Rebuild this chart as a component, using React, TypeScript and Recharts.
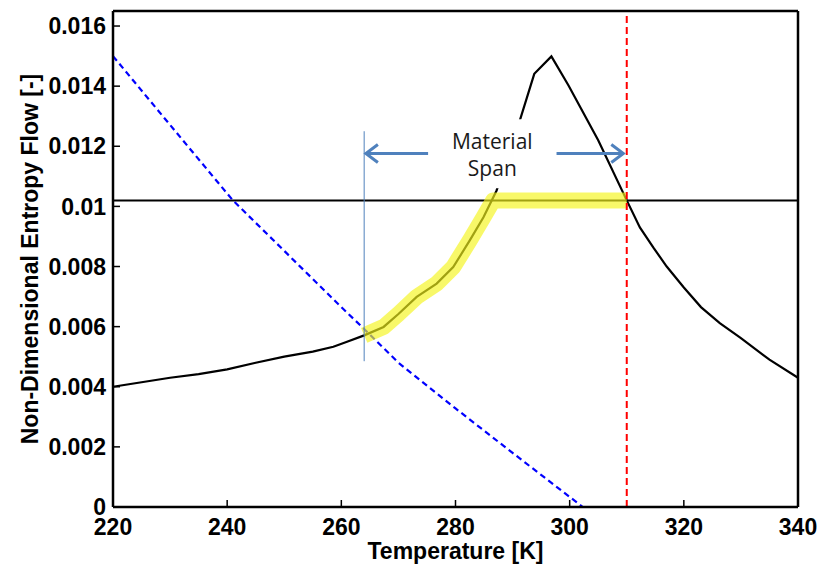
import React from 'react';
import { LineChart, Line, XAxis, YAxis, ReferenceLine, ReferenceArea } from 'recharts';

// Black curve: non-dimensional entropy flow of the material
const curveT = [220, 225, 230, 235, 240, 245, 250, 255, 258.6, 261, 264, 267.4, 270, 273.2, 276.7, 279.6, 282.5, 284.9, 287.2, 291.3, 293.8, 296.8, 299.8, 305, 310, 312.3, 314.7, 317, 320, 323, 326.3, 330, 335, 340];
const curveS = [0.004, 0.00415, 0.0043, 0.00442, 0.00458, 0.0048, 0.005, 0.00517, 0.00533, 0.0055, 0.00571, 0.00599, 0.00642, 0.00699, 0.00743, 0.00798, 0.00887, 0.00964, 0.01053, 0.01288, 0.01441, 0.01499, 0.01402, 0.0122, 0.0102, 0.0093, 0.00862, 0.0080, 0.0073, 0.00665, 0.00612, 0.00562, 0.0049, 0.0043];

// Blue dashed curve
const limitT = [220, 230, 241, 250, 260, 264, 270, 280, 290, 302.3];
const limitS = [0.015, 0.01271, 0.0102, 0.00852, 0.00665, 0.00592, 0.0048, 0.00328, 0.0018, 0];

// Yellow highlighted region
const highlightT = [264, 267.4, 270, 273.2, 276.7, 279.6, 282.5, 284.9, 286.6, 310];
const highlightS = [0.00571, 0.00599, 0.00642, 0.00699, 0.00743, 0.00798, 0.00887, 0.00964, 0.0102, 0.0102];

const xTicks = [220, 240, 260, 280, 300, 320, 340];
const yTicks = [0, 0.002, 0.004, 0.006, 0.008, 0.01, 0.012, 0.014, 0.016];

const spanLevel = 0.0102;
const spanStart = 264;
const spanEnd = 310;
const startMarkLow = 0.00485;
const startMarkHigh = 0.0125;
const arrowLevel = 0.01176;
const leftArrow = [275.2, 264.3];
const rightArrow = [297.7, 309.4];
const labelBoxX = [275.3, 297.6];
const labelBoxY = [0.0106, 0.0129];
const labelLines = ['Material', 'Span'];

const toPts = (t: number[], s: number[]) => t.map((x, i) => ({ x, y: s[i] }));
const curveData = toPts(curveT, curveS);
const limitData = toPts(limitT, limitS);
const highlightData = toPts(highlightT, highlightS);

const ARROW = '#4f81bd';
const AXIS_FONT = '"Liberation Sans", Arial, Helvetica, sans-serif';

const XTick = (props: any) => {
  const { x, y, payload } = props;
  return (
    <text x={x} y={y} dy="0.71em" textAnchor="middle" fontFamily={AXIS_FONT} fontWeight="bold" fontSize={23} fill="#000">
      {String(payload.value)}
    </text>
  );
};

const YTick = (props: any) => {
  const { x, y, payload } = props;
  const v = payload.value;
  return (
    <text x={x} y={y} dy="0.355em" textAnchor="end" fontFamily={AXIS_FONT} fontWeight="bold" fontSize={23} fill="#000">
      {v === 0 ? '0' : String(v)}
    </text>
  );
};

const ArrowShape = (props: any) => {
  const { x1, y1, x2, y2 } = props;
  const dx = x2 - x1;
  const dy = y2 - y1;
  const len = Math.hypot(dx, dy) || 1;
  const ux = dx / len;
  const uy = dy / len;
  const h = 12;
  const w = 9;
  const bx = x2 - ux * h;
  const by = y2 - uy * h;
  return (
    <g>
      <line x1={x1} y1={y1} x2={x2 - ux * 1.5} y2={y2 - uy * 1.5} stroke={ARROW} strokeWidth={3} />
      <polyline
        points={`${bx - uy * w},${by + ux * w} ${x2},${y2} ${bx + uy * w},${by - ux * w}`}
        fill="none"
        stroke={ARROW}
        strokeWidth={3}
      />
    </g>
  );
};

const SpanLabel = (props: any) => {
  const vb = props.viewBox || {};
  const cx = vb.x + vb.width / 2;
  return (
    <text x={cx} y={vb.y + 30} textAnchor="middle" fontFamily='"Open Sans", sans-serif' fontSize={21} fill="#1a1a1a">
      <tspan x={cx} y={vb.y + 30}>{labelLines[0]}</tspan>
      <tspan x={cx} y={vb.y + 57}>{labelLines[1]}</tspan>
    </text>
  );
};

const XLabel = (props: any) => {
  const vb = props.viewBox || {};
  return (
    <text x={vb.x + vb.width / 2} y={vb.y + 52} textAnchor="middle" fontFamily={AXIS_FONT} fontWeight="bold" fontSize={23} fill="#000">
      Temperature [K]
    </text>
  );
};

const YLabel = (props: any) => {
  const vb = props.viewBox || {};
  const x = vb.x + 38;
  const y = vb.y + vb.height / 2;
  return (
    <text x={x} y={y} transform={`rotate(-90, ${x}, ${y})`} textAnchor="middle" fontFamily={AXIS_FONT} fontWeight="bold" fontSize={23} fill="#000">
      Non-Dimensional Entropy Flow [-]
    </text>
  );
};

export default function App() {
  return (
    <div style={{ position: 'absolute', left: 0, top: 0, width: 820, height: 570, background: '#fff' }}>
      <LineChart width={820} height={570} margin={{ top: 10, right: 21, bottom: 0, left: 0 }}>
        <XAxis
          dataKey="x"
          type="number"
          domain={[220, 340]}
          ticks={xTicks}
          tick={<XTick />}
          tickSize={-7}
          tickMargin={19}
          height={63}
          axisLine={{ stroke: '#000', strokeWidth: 2.5 }}
          tickLine={{ stroke: '#000', strokeWidth: 1.5 }}
          label={<XLabel />}
          interval={0}
        />
        <XAxis
          xAxisId="top"
          orientation="top"
          dataKey="x"
          type="number"
          domain={[220, 340]}
          ticks={xTicks}
          tickFormatter={() => ''}
          tickSize={-7}
          height={1}
          axisLine={{ stroke: '#000', strokeWidth: 2.5 }}
          tickLine={{ stroke: '#000', strokeWidth: 1.5 }}
          interval={0}
        />
        <YAxis
          type="number"
          domain={[0, 0.0165]}
          ticks={yTicks}
          tick={<YTick />}
          tickSize={-7}
          tickMargin={14}
          width={113}
          axisLine={{ stroke: '#000', strokeWidth: 2.5 }}
          tickLine={{ stroke: '#000', strokeWidth: 1.5 }}
          label={<YLabel />}
          interval={0}
        />
        <YAxis
          yAxisId="right"
          orientation="right"
          type="number"
          domain={[0, 0.0165]}
          ticks={yTicks}
          tickFormatter={() => ''}
          tickSize={-7}
          width={1}
          axisLine={{ stroke: '#000', strokeWidth: 2.5 }}
          tickLine={{ stroke: '#000', strokeWidth: 1.5 }}
          interval={0}
        />
        <ReferenceLine y={spanLevel} stroke="#000" strokeWidth={2} zIndex={300} />
        <Line data={limitData} dataKey="y" type="linear" stroke="#0000ff" strokeWidth={2.2} strokeDasharray="6 4" dot={false} activeDot={false} isAnimationActive={false} />
        <Line data={curveData} dataKey="y" type="linear" stroke="#000" strokeWidth={2.2} dot={false} activeDot={false} isAnimationActive={false} />
        <Line data={highlightData} dataKey="y" type="linear" stroke="#f4f41c" strokeOpacity={0.66} strokeWidth={16} strokeLinejoin="round" dot={false} activeDot={false} isAnimationActive={false} zIndex={450} />
        <ReferenceLine x={spanEnd} stroke="#ff0000" strokeWidth={2} strokeDasharray="7 4" zIndex={470} />
        <ReferenceLine segment={[{ x: spanStart, y: startMarkLow }, { x: spanStart, y: startMarkHigh }]} stroke={ARROW} strokeWidth={1} zIndex={470} />
        <ReferenceArea x1={labelBoxX[0]} x2={labelBoxX[1]} y1={labelBoxY[0]} y2={labelBoxY[1]} fill="#ffffff" fillOpacity={1} stroke="none" label={<SpanLabel />} zIndex={480} />
        <ReferenceLine segment={[{ x: leftArrow[0], y: arrowLevel }, { x: leftArrow[1], y: arrowLevel }]} shape={ArrowShape} zIndex={490} />
        <ReferenceLine segment={[{ x: rightArrow[0], y: arrowLevel }, { x: rightArrow[1], y: arrowLevel }]} shape={ArrowShape} zIndex={490} />
      </LineChart>
    </div>
  );
}
